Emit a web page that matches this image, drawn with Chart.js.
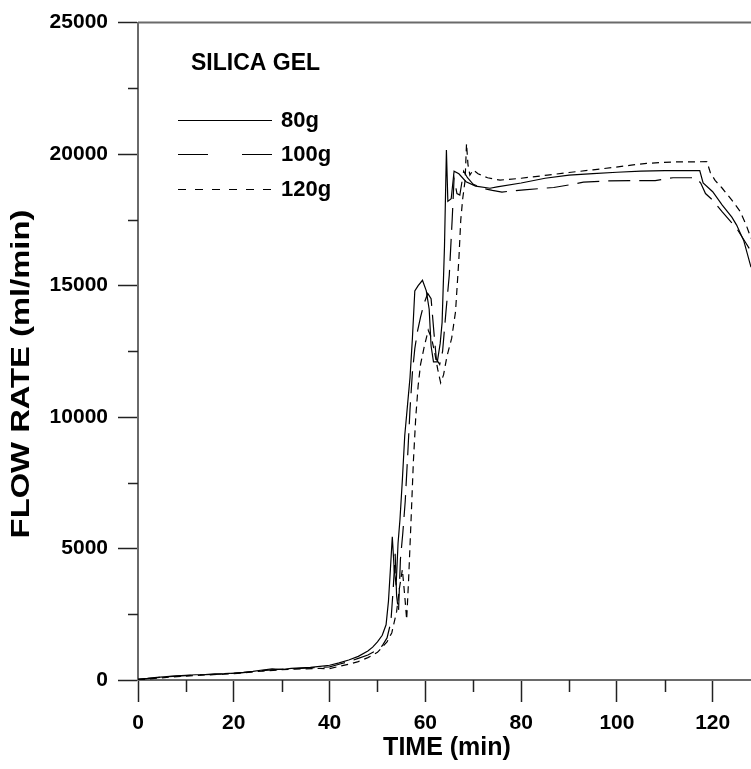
<!DOCTYPE html>
<html>
<head>
<meta charset="utf-8">
<script src="https://cdn.jsdelivr.net/npm/chart.js@4.4.1/dist/chart.umd.min.js"></script>
<style>
  html, body { margin: 0; padding: 0; background: #fff; }
  canvas { display: block; }
</style>
</head>
<body>
<canvas id="flow" width="751" height="769"></canvas>
<script>
// flow rate (ml/min) against time (min) for three silica gel loads
const time80 = [0,2,4,6,8,10,12,14,16,18,20,22,24,26,28,30,32,34,36,38,40,42,44,46,48,49,50,51,51.8,52.3,52.7,53.1,53.5,53.9,54.3,54.7,55.2,55.7,56.3,56.8,57.3,57.8,58.5,59.4,60.2,60.8,61.2,61.7,62.5,63.1,63.5,64.0,64.4,64.7,65.4,66,67,68.5,70.5,73.5,75,80,85,90,95,100,105,110,117.3,118,120,122,124,125,126.5,128];
const flow80 = [30,60,100,130,160,180,200,210,230,240,260,290,330,380,420,400,440,460,480,520,560,650,760,900,1100,1250,1450,1700,2100,3000,4200,5450,4200,3600,5200,6100,7600,9300,10500,11500,13000,14800,15000,15200,14800,14100,12700,12100,12100,12800,13600,16500,20150,18200,18300,19350,19250,18950,18780,18700,18750,18900,19080,19200,19260,19310,19350,19370,19370,18900,18570,18060,17600,17300,16700,15700];

const time100 = [0,3,6,10,14,18,22,26,30,34,38,40,42,44,46,48,50,51,52,52.8,53.3,53.7,54.0,54.4,54.8,55.3,55.8,56.3,56.8,57.3,57.8,58.4,59,59.7,60.5,61.2,61.8,62.3,63,63.6,64.3,65.0,65.6,66,66.6,67.2,68,68.8,70,72,74,76,78,80.6,86.8,90.8,93,98,104,108,111.7,116.5,117.5,118.5,120,122,125,127,128];
const flow100 = [20,70,120,170,200,230,280,360,410,440,480,500,600,700,820,950,1150,1300,1600,2200,3500,4800,3200,2600,4600,5600,6800,8500,10300,11700,12600,13300,13800,14300,14700,14500,13200,12200,12000,12500,14000,15400,17500,19080,18500,18440,19350,19100,18850,18700,18620,18550,18600,18640,18730,18850,18930,18980,18990,18990,19100,19100,18900,18500,18250,17800,17180,16600,16300];

const time120 = [0,3,6,10,14,18,22,26,30,34,38,40,42,44,46,48,50,51,52,53,54,54.6,55.2,55.7,56.1,56.5,57,57.5,58,58.5,59,59.8,60.6,61.3,62,62.6,63.2,63.8,64.5,65.5,66.3,67,67.4,67.8,68.3,68.6,68.9,69.3,70,71,73,75.6,80,85.5,90,95,99.2,103,106.2,112,118.8,119.5,120.5,122,124,125.7,127,128];
const flow120 = [0,50,100,150,190,220,270,340,390,420,440,430,520,600,700,850,1050,1250,1450,1800,2600,3500,4200,3200,2300,3800,6000,8300,10000,11200,12000,12700,13300,13000,12400,11800,11300,11600,12300,13000,14000,16000,17500,18300,19000,20400,19600,19200,19400,19250,19100,19010,19080,19200,19300,19400,19490,19580,19650,19700,19710,19300,19000,18700,18250,17830,17300,16800];

const seriesNames = ['80g', '100g', '120g'];
const xMajor = [0, 20, 40, 60, 80, 100, 120];
const xMinor = [10, 30, 50, 70, 90, 110];
const yMajor = [0, 5000, 10000, 15000, 20000, 25000];
const yMinor = [2500, 7500, 12500, 17500, 22500];

const toPoints = (ts, vs) => ts.map((t, i) => ({ x: t, y: vs[i] }));

const TICK_FONT = { family: '"Liberation Sans", Arial, sans-serif', size: 21, weight: 'bold' };
const AXIS_GREY = '#6a6a6a';

const dashData = [[], [22, 9], [7, 5]];
const dashLegend = [[], [30, 34], [8, 9]];

// axis titles, top frame line, minor ticks and the legend block
const decor = {
  id: 'decor',
  afterDraw(chart) {
    const { ctx, chartArea: a, scales: { x, y } } = chart;
    ctx.save();

    ctx.strokeStyle = AXIS_GREY;
    ctx.lineWidth = 2;
    ctx.beginPath();
    ctx.moveTo(a.left, a.top);
    ctx.lineTo(chart.width, a.top);
    ctx.stroke();

    ctx.strokeStyle = '#222';
    ctx.lineWidth = 1.5;
    ctx.beginPath();
    xMinor.forEach(v => {
      const px = Math.round(x.getPixelForValue(v)) + 0.5;
      ctx.moveTo(px, a.bottom);
      ctx.lineTo(px, a.bottom + 12);
    });
    yMinor.forEach(v => {
      const py = Math.round(y.getPixelForValue(v)) + 0.5;
      ctx.moveTo(a.left, py);
      ctx.lineTo(a.left - 10, py);
    });
    ctx.stroke();

    ctx.fillStyle = '#000';
    ctx.textAlign = 'center';
    ctx.textBaseline = 'middle';
    ctx.font = 'bold 25px "Liberation Sans", Arial, sans-serif';
    ctx.fillText('TIME (min)', 447, 748);

    ctx.save();
    ctx.translate(22, 374);
    ctx.rotate(-Math.PI / 2);
    ctx.scale(1.26, 1);
    ctx.font = 'bold 26px "Liberation Sans", Arial, sans-serif';
    ctx.fillText('FLOW RATE (ml/min)', 0, 0);
    ctx.restore();

    ctx.textAlign = 'left';
    ctx.textBaseline = 'alphabetic';
    ctx.font = 'bold 23px "Liberation Sans", Arial, sans-serif';
    ctx.fillText('SILICA GEL', 191, 70);

    const rows = [120, 154, 189];
    ctx.textBaseline = 'middle';
    ctx.font = 'bold 22px "Liberation Sans", Arial, sans-serif';
    seriesNames.forEach((name, i) => {
      ctx.strokeStyle = '#000';
      ctx.lineWidth = 1.2;
      ctx.setLineDash(dashLegend[i]);
      ctx.beginPath();
      ctx.moveTo(178, rows[i] + 0.5);
      ctx.lineTo(272, rows[i] + 0.5);
      ctx.stroke();
      ctx.setLineDash([]);
      ctx.fillText(name, 281, rows[i] + 1);
    });

    ctx.restore();
  }
};

const series = [toPoints(time80, flow80), toPoints(time100, flow100), toPoints(time120, flow120)];

new Chart(document.getElementById('flow'), {
  type: 'line',
  data: {
    datasets: series.map((pts, i) => ({
      label: seriesNames[i],
      data: pts,
      borderColor: '#000',
      borderWidth: 1.2,
      borderDash: dashData[i],
      pointRadius: 0,
      tension: 0,
      fill: false
    }))
  },
  options: {
    responsive: false,
    animation: false,
    devicePixelRatio: 1,
    layout: { padding: { top: 22, right: 0, left: 0, bottom: 0 } },
    plugins: { legend: { display: false }, tooltip: { enabled: false } },
    scales: {
      x: {
        type: 'linear',
        min: 0,
        max: 128,
        afterFit: s => { s.height = 89; },
        afterBuildTicks: s => { s.ticks = xMajor.map(v => ({ value: v })); },
        border: { color: AXIS_GREY, width: 2 },
        grid: { drawOnChartArea: false, drawTicks: true, tickLength: 22, tickColor: '#222', tickWidth: 1.5 },
        ticks: { font: TICK_FONT, color: '#000', padding: 9, maxRotation: 0, callback: v => String(v) }
      },
      y: {
        type: 'linear',
        min: 0,
        max: 25000,
        afterFit: s => { s.width = 138; },
        afterBuildTicks: s => { s.ticks = yMajor.map(v => ({ value: v })); },
        border: { color: AXIS_GREY, width: 2 },
        grid: { drawOnChartArea: false, drawTicks: true, tickLength: 20, tickColor: '#222', tickWidth: 1.5 },
        ticks: { font: TICK_FONT, color: '#000', padding: 10, callback: v => String(v) }
      }
    }
  },
  plugins: [decor]
});
</script>
</body>
</html>
